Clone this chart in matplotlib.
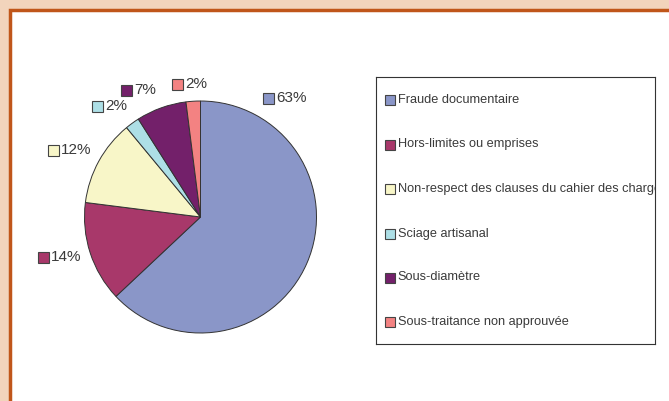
import matplotlib.pyplot as plt
from matplotlib.patches import Rectangle

# données du graphique
categories = ['Fraude documentaire', 'Hors-limites ou emprises',
              'Non-respect des clauses du cahier des charges', 'Sciage artisanal',
              'Sous-diamètre', 'Sous-traitance non approuvée']
valeurs = [63, 14, 12, 2, 7, 2]
couleurs = ['#8A96C8', '#A8386A', '#F8F6C8', '#ADDFE6', '#73206A', '#F38282']

# position des étiquettes (pixels, coin gauche du carré, centre vertical)
pos_etiquettes = [(263, 98), (38, 257), (48, 150), (92, 106), (121, 90), (172, 84)]

W, H = 669, 401
plt.rcParams['font.family'] = ['Liberation Sans', 'DejaVu Sans']
fig = plt.figure(figsize=(W / 100, H / 100), dpi=100)
fig.patch.set_facecolor('#F2D4BC')
ax = fig.add_axes([0, 0, 1, 1])
ax.set_xlim(0, W)
ax.set_ylim(0, H)
ax.axis('off')

# cadre blanc avec bordure orange
ax.add_patch(Rectangle((9.5, -10), W, H - 9.5 + 10, facecolor='white',
                       edgecolor='#C0561A', linewidth=2.5, zorder=0))

# camembert
ax.pie(valeurs, colors=couleurs, startangle=90, counterclock=False,
       center=(200.5, H - 217), radius=116, frame=True,
       wedgeprops=dict(edgecolor='#333333', linewidth=0.7))
ax.set_xlim(0, W)
ax.set_ylim(0, H)
ax.set_aspect('equal')
ax.axis('off')

# étiquettes de pourcentage
for v, c, (px, py) in zip(valeurs, couleurs, pos_etiquettes):
    ax.add_patch(Rectangle((px, H - py - 5.5), 11, 11, facecolor=c,
                           edgecolor='#444444', linewidth=0.8))
    ax.text(px + 13, H - py, f'{v}%', fontsize=11, color='#3a3a3a',
            va='center', ha='left')

# légende manuelle avec texte coupé au bord du cadre
lx0, ly0, lx1, ly1 = 376, 77, 655, 344
lax = fig.add_axes([lx0 / W, 1 - ly1 / H, (lx1 - lx0) / W, (ly1 - ly0) / H])
lax.set_xlim(lx0, lx1)
lax.set_ylim(ly1, ly0)
lax.set_xticks([])
lax.set_yticks([])
for s in lax.spines.values():
    s.set_edgecolor('#333333')
    s.set_linewidth(0.8)
ys = [100, 144.5, 189, 233.5, 277.5, 321.5]
for cat, c, y in zip(categories, couleurs, ys):
    lax.add_patch(Rectangle((385, y - 5), 10, 10, facecolor=c,
                            edgecolor='#444444', linewidth=0.8))
    lax.text(397.5, y, cat, fontsize=9.2, color='#3a3a3a', va='center',
             ha='left', clip_on=True)

fig.savefig('out.png', dpi=100, facecolor=fig.get_facecolor())
